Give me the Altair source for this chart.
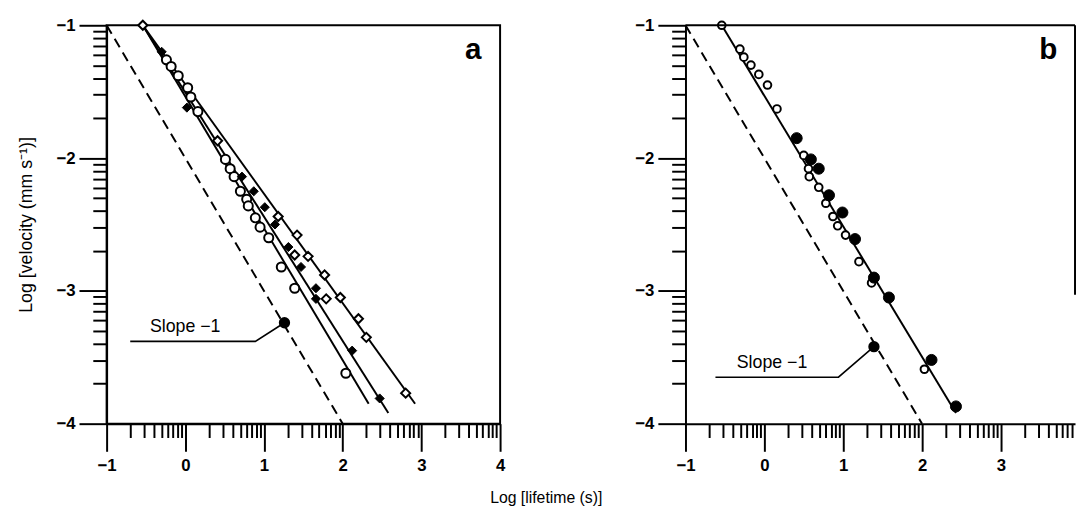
import altair as alt
import pandas as pd
import numpy as np

FONT = "Liberation Sans"

# ---------------- Panel a data ----------------
a_oc_x = [-0.24, -0.18, -0.09, 0.03, 0.07, 0.16, 0.51, 0.57, 0.62, 0.70, 0.78, 0.80, 0.89, 0.95, 1.06, 1.22, 1.39, 2.04]
a_oc_y = [-1.26, -1.31, -1.38, -1.47, -1.54, -1.65, -2.01, -2.08, -2.14, -2.25, -2.31, -2.36, -2.45, -2.52, -2.60, -2.82, -2.98, -3.62]

a_fd_x = [-0.30, 0.02, 0.72, 0.87, 1.01, 1.14, 1.31, 1.47, 1.66, 1.66, 2.12, 2.47]
a_fd_y = [-1.20, -1.62, -2.14, -2.25, -2.37, -2.50, -2.67, -2.82, -2.98, -3.06, -3.45, -3.81]

a_od_x = [-0.54, 0.41, 1.18, 1.42, 1.39, 1.56, 1.77, 1.79, 1.97, 2.20, 2.30, 2.80]
a_od_y = [-1.00, -1.87, -2.44, -2.58, -2.73, -2.74, -2.88, -3.06, -3.05, -3.21, -3.35, -3.77]

a_fit1_x = [-0.54, 2.33]
a_fit1_y = [-1.00, -3.85]
a_fit2_x = [-0.54, 2.58]
a_fit2_y = [-1.00, -3.92]
a_fit3_x = [-0.54, 2.92]
a_fit3_y = [-1.00, -3.85]

a_slope_pt_x = [1.26]
a_slope_pt_y = [-3.24]
a_leader_x = [-0.70, 0.89, 1.26]
a_leader_y = [-3.38, -3.38, -3.24]
a_label_x = -0.45
a_label_y = -3.27

# ---------------- Panel b data ----------------
b_oc_x = [-0.54, -0.31, -0.26, -0.17, -0.07, 0.04, 0.16, 0.50, 0.56, 0.57, 0.69, 0.78, 0.87, 0.93, 1.03, 1.20, 1.36, 2.03]
b_oc_y = [-1.00, -1.18, -1.24, -1.30, -1.37, -1.45, -1.63, -1.98, -2.08, -2.14, -2.22, -2.34, -2.44, -2.51, -2.58, -2.78, -2.94, -3.59]

b_fc_x = [0.41, 0.59, 0.69, 0.82, 0.99, 1.15, 1.39, 1.58, 2.12, 2.43]
b_fc_y = [-1.85, -2.01, -2.08, -2.28, -2.41, -2.61, -2.90, -3.05, -3.52, -3.87]

b_fit_x = [-0.54, 2.43]
b_fit_y = [-1.00, -3.92]

b_slope_pt_x = [1.39]
b_slope_pt_y = [-3.42]
b_leader_x = [-0.62, 0.94, 1.39]
b_leader_y = [-3.65, -3.65, -3.42]
b_label_x = -0.35
b_label_y = -3.54

# slope -1 reference (dashed) line, both panels
dash_x = [-1.0, 2.0]
dash_y = [-1.0, -4.0]

# axes
a_xmin, a_xmax = -1.0, 4.0
b_xmin, b_xmax = -1.0, 3.94
y_min, y_max = -4.0, -1.0
LOG_MINOR = [float(np.log10(k)) for k in range(2, 10)]


def major_values(lo, hi):
    return [float(v) for v in range(int(np.ceil(lo)), int(np.floor(hi)) + 1)]


def minor_values(lo, hi):
    return [n + m for n in range(int(np.floor(lo)), int(np.ceil(hi)))
            for m in LOG_MINOR if lo <= n + m <= hi]


def major_axis(values, orient, title=None):
    kw = dict(
        values=values, orient=orient, title=title, format="d",
        tickSize=28, tickWidth=2, tickColor="black",
        labelFlush=False, labelOverlap=False,
        labelFont=FONT, labelFontSize=17, labelFontWeight="bold", labelColor="black",
        labelPadding=4 if orient == "left" else 6,
        domainColor="black", domainWidth=2, grid=False,
    )
    if title is not None:
        kw.update(titleFont=FONT, titleFontSize=18, titleFontWeight="normal",
                  titleColor="black", titlePadding=21)
    return alt.Axis(**kw)


def minor_axis(values, orient):
    return alt.Axis(values=values, orient=orient, title=None, labels=False,
                    tickSize=14, tickWidth=2, tickColor="black",
                    domain=False, grid=False)


def pts_df(xs, ys):
    return pd.DataFrame({"x": xs, "y": ys})


def line_df(xs, ys):
    return pd.DataFrame({"x": xs, "y": ys, "o": list(range(len(xs)))})


def panel(xmin, xmax, width, ytitle, letter, letter_x, fits, point_layers,
          slope_pt, leader, label_xy, frame):
    xs = alt.Scale(domain=[xmin, xmax], nice=False, zero=False)
    ys = alt.Scale(domain=[y_min, y_max], nice=False, zero=False)

    def X(ax=None):
        return alt.X("x:Q", scale=xs, axis=ax)

    def Y(ax=None):
        return alt.Y("y:Q", scale=ys, axis=ax)

    layers = []
    dash = line_df(dash_x, dash_y)
    # major axes carried by the dashed slope -1 line
    layers.append(alt.Chart(dash).mark_line(
        color="black", strokeWidth=2, strokeDash=[10, 6]).encode(
        x=X(major_axis(major_values(xmin, xmax), "bottom")),
        y=Y(major_axis(major_values(y_min, y_max), "left", ytitle)),
        order="o:Q"))
    # minor (log-decade) ticks on an invisible copy
    layers.append(alt.Chart(dash).mark_line(strokeOpacity=0).encode(
        x=X(minor_axis(minor_values(xmin, xmax), "bottom")),
        y=Y(minor_axis(minor_values(y_min, y_max), "left")),
        order="o:Q"))
    # fitted lines
    for fx, fy in fits:
        layers.append(alt.Chart(line_df(fx, fy)).mark_line(
            color="black", strokeWidth=2).encode(x=X(), y=Y(), order="o:Q"))
    # leader line to slope marker
    layers.append(alt.Chart(line_df(*leader)).mark_line(
        color="black", strokeWidth=1.6).encode(x=X(), y=Y(), order="o:Q"))
    layers.append(alt.Chart(pts_df(*slope_pt)).mark_point(
        shape="circle", filled=True, fill="black", stroke="black", size=90, opacity=1
    ).encode(x=X(), y=Y()))
    # data points
    for (px, py), style in point_layers:
        layers.append(alt.Chart(pts_df(px, py)).mark_point(opacity=1, **style).encode(x=X(), y=Y()))
    # labels
    layers.append(alt.Chart(pd.DataFrame({"x": [label_xy[0]], "y": [label_xy[1]], "t": ["Slope \u22121"]}))
                  .mark_text(font=FONT, fontSize=18, align="left", baseline="middle", color="black")
                  .encode(x=X(), y=Y(), text="t:N"))
    layers.append(alt.Chart(pd.DataFrame({"x": [letter_x], "y": [-1.19], "t": [letter]}))
                  .mark_text(font=FONT, fontSize=30, fontWeight="bold", align="center",
                             baseline="middle", color="black")
                  .encode(x=X(), y=Y(), text="t:N"))
    if frame == "partial":
        layers.append(alt.Chart(pd.DataFrame({"x": [xmin], "x2": [xmax], "y": [y_max]}))
                      .mark_rule(color="black", strokeWidth=2)
                      .encode(x=X(), x2="x2:Q", y=Y()))
        layers.append(alt.Chart(pd.DataFrame({"x": [xmax], "y": [y_max], "y2": [-3.03]}))
                      .mark_rule(color="black", strokeWidth=2)
                      .encode(x=X(), y=Y(), y2="y2:Q"))
        view = alt.ViewBackground(strokeWidth=0)
    else:
        view = alt.ViewBackground(stroke="black", strokeWidth=2)
    return (alt.layer(*layers)
            .resolve_axis(x="independent", y="independent")
            .properties(width=width, height=404, view=view))


open_circle_a = dict(shape="circle", filled=True, fill="white", stroke="black", strokeWidth=2, size=85)
open_diamond_a = dict(shape="diamond", filled=True, fill="white", stroke="black", strokeWidth=2, size=85)
filled_diamond_a = dict(shape="diamond", filled=True, fill="black", stroke="black", strokeWidth=1, size=85)
open_circle_b = dict(shape="circle", filled=True, fill="white", stroke="black", strokeWidth=2, size=60)
filled_circle_b = dict(shape="circle", filled=True, fill="black", stroke="black", strokeWidth=1, size=125)

pa = panel(a_xmin, a_xmax, 399, "Log [velocity (mm s\u207b\u00b9)]", "a", 3.66,
           [(a_fit1_x, a_fit1_y), (a_fit2_x, a_fit2_y), (a_fit3_x, a_fit3_y)],
           [((a_oc_x, a_oc_y), open_circle_a), ((a_od_x, a_od_y), open_diamond_a),
            ((a_fd_x, a_fd_y), filled_diamond_a)],
           (a_slope_pt_x, a_slope_pt_y), (a_leader_x, a_leader_y), (a_label_x, a_label_y), "full")

pb = panel(b_xmin, b_xmax, 395, None, "b", 3.60,
           [(b_fit_x, b_fit_y)],
           [((b_oc_x, b_oc_y), open_circle_b), ((b_fc_x, b_fc_y), filled_circle_b)],
           (b_slope_pt_x, b_slope_pt_y), (b_leader_x, b_leader_y), (b_label_x, b_label_y), "partial")

chart = alt.hconcat(pa, pb, spacing=130).properties(
    padding={"left": 8, "top": 4, "right": 0, "bottom": 0},
    title=alt.TitleParams("Log [lifetime (s)]", orient="bottom", anchor="middle",
                          font=FONT, fontSize=16, fontWeight="normal", color="black", offset=16),
).configure_view(stroke=None)

chart.save("out.html", embed_options={"renderer": "svg", "actions": False})
